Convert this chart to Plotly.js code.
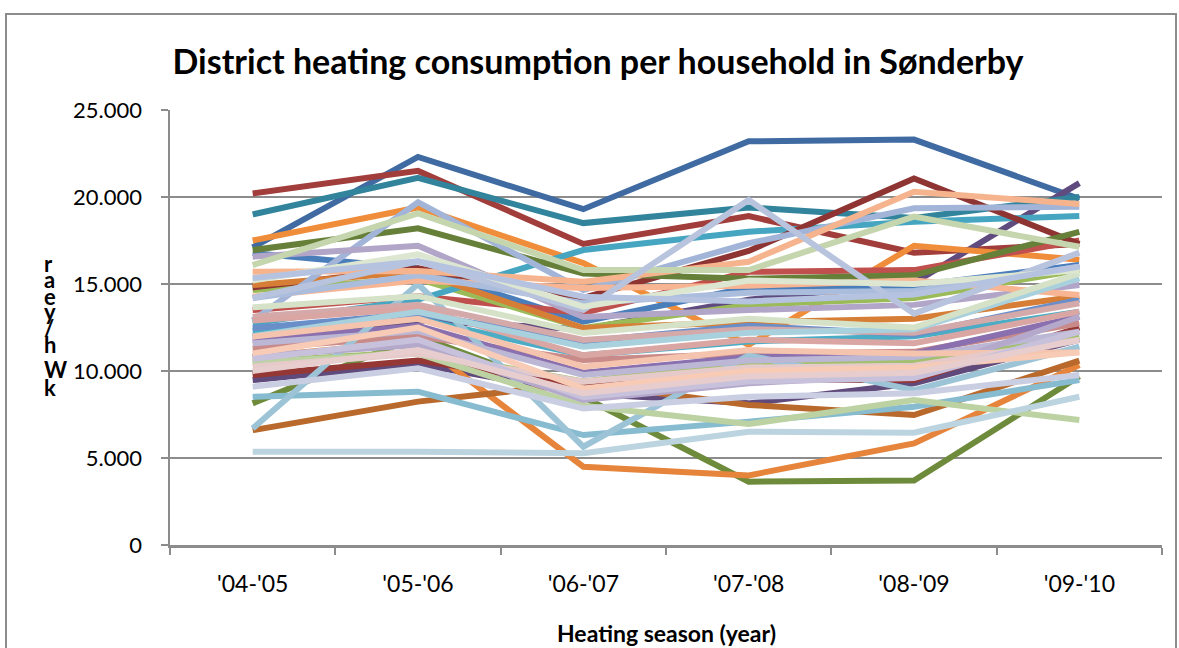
<!DOCTYPE html>
<html>
<head>
<meta charset="utf-8">
<script src="https://cdn.plot.ly/plotly-3.0.1.min.js"></script>
<style>
html,body{margin:0;padding:0;background:#fff;}
#chart{width:1179px;height:648px;}
</style>
</head>
<body>
<div id="chart"></div>
<script>
const seasons = ["'04-'05", "'05-'06", "'06-'07", "'07-'08", "'08-'09", "'09-'10"];
const yTicks = [0, 5000, 10000, 15000, 20000, 25000];

const h01 = [17100, 22300, 19300, 23200, 23300, 19900];
const h02 = [20200, 21500, 17300, 18900, 16800, 17300];
const h03 = [8140, 12000, 8500, 3640, 3700, 9700];
const h04 = [12000, 12900, 12400, 14100, 15070, 20800];
const h05 = [19000, 21100, 18500, 19400, 18800, 20000];
const h06 = [17500, 19400, 16200, 11500, 17200, 16400];
const h07 = [16780, 15900, 12830, 14800, 14900, 16090];
const h08 = [13500, 14300, 13330, 15700, 15800, 17500];
const h09 = [14650, 15300, 12470, 13800, 14200, 15800];
const h10 = [9480, 10400, 8700, 8140, 9300, 11800];
const h11 = [12740, 14100, 16950, 18000, 18580, 18910];
const h12 = [10800, 11700, 4500, 4000, 5840, 10345];
const h13 = [6600, 8240, 9300, 8050, 7470, 10600];
const h14 = [14800, 15900, 14200, 16900, 21070, 17300];
const h15 = [16950, 18200, 15600, 15300, 15500, 18000];
const h16 = [12300, 13000, 10900, 11700, 12000, 13400];
const h17 = [14940, 15700, 12470, 12800, 13000, 14300];
const h18 = [9770, 10600, 9200, 9500, 9480, 12500];
const h19 = [12470, 13300, 11700, 12600, 12100, 14100];
const h20 = [11300, 12000, 10630, 11000, 11100, 12740];
const h21 = [10530, 11100, 9400, 10500, 10600, 12000];
const h22 = [11700, 12600, 9900, 10800, 11000, 13120];
const h23 = [8520, 8810, 6320, 7090, 7950, 9480];
const h24 = [12900, 19700, 14650, 17340, 19350, 19440];
const h25 = [16570, 17200, 13100, 13500, 13800, 14940];
const h26 = [6700, 15000, 5650, 10900, 8900, 11400];
const h27 = [14270, 15200, 14770, 14900, 15200, 14370];
const h28 = [14180, 15500, 13900, 14500, 14600, 16000];
const h29 = [13120, 13800, 11780, 12400, 12200, 13890];
const h30 = [12900, 13600, 10900, 11800, 11600, 13410];
const h31 = [10500, 11000, 8000, 6950, 8330, 7180];
const h32 = [9100, 10150, 7850, 8520, 8720, 9770];
const h33 = [15700, 15750, 15130, 16280, 20300, 19600];
const h34 = [16090, 19060, 15800, 15800, 18870, 17140];
const h35 = [14200, 16300, 13500, 19830, 13300, 16800];
const h36 = [12000, 13400, 11400, 12200, 12400, 15330];
const h37 = [11590, 12300, 9770, 10600, 10800, 12260];
const h38 = [10860, 11500, 8330, 9300, 9800, 13120];
const h39 = [13660, 14300, 12180, 13000, 12500, 15610];
const h40 = [15200, 16700, 13700, 15200, 15000, 15800];
const h41 = [15340, 16300, 14270, 14000, 14400, 16000];
const h42 = [11970, 13000, 10250, 11200, 11000, 11070];
const h43 = [10250, 11000, 9390, 10200, 10300, 11780];
const h44 = [11000, 12500, 9000, 10000, 10200, 11070];
const h45 = [10700, 11800, 8500, 9400, 9600, 12260];
const h46 = [5360, 5360, 5270, 6510, 6450, 8520];
const h47 = [10000, 11200, 8720, 9700, 9900, 11780];

const lineColors = ["#3F6BA2", "#A13D3B", "#6E8A3B", "#5F4B7E", "#31849B", "#F08D3A",
  "#4A7EBB", "#C0504D", "#9BBB59", "#604A7B", "#46A6C1", "#E5843A",
  "#B8692B", "#8E3432", "#66803A", "#4BACC6", "#D67D36", "#953735",
  "#6A8FC8", "#C98B89", "#A2C06F", "#8A70AE", "#86BBD0", "#A2B5D8",
  "#B1A5C8", "#9DC4D6", "#F8B593", "#ABBDDD", "#D4A9A9", "#D9A6A4",
  "#BCD2A2", "#C9CEE2", "#F6B48E", "#C5D6AE", "#B8C3DD", "#A9D0DD",
  "#BCB7D4", "#B4A8CB", "#D6E2C8", "#DCE6D0", "#B5C3E0", "#F5C4AE",
  "#E6CACA", "#F7CBB6", "#C7C1DC", "#BCD4E0", "#E7CDCD"];

const allSeries = [h01,h02,h03,h04,h05,h06,h07,h08,h09,h10,h11,h12,h13,h14,h15,h16,h17,h18,h19,h20,
  h21,h22,h23,h24,h25,h26,h27,h28,h29,h30,h31,h32,h33,h34,h35,h36,h37,h38,h39,h40,h41,h42,h43,h44,h45,h46,h47];

const traces = allSeries.map((vals, i) => ({
  type: 'scatter', mode: 'lines', x: seasons, y: vals,
  line: {color: lineColors[i], width: 6},
  hoverinfo: 'skip', showlegend: false
}));

const W = 1179, H = 648, L = 170, R = 17, T = 110, B = 103;
const pw = W - L - R, ph = H - T - B;
const px = v => (v - L) / pw;
const py = v => (H - B - v) / ph;

const gray = '#8C8C8C';
const fam = 'Lato, "Open Sans", sans-serif';

const yLetters = ['r', 'a', 'e', 'y', '/', 'h', 'W', 'k'];
const yLetterPos = [263, 279, 296, 311, 327, 344, 369, 387];
const annotations = yLetters.map((ch, i) => ({
  text: '<b>' + ch + '</b>', xref: 'paper', yref: 'paper',
  x: px(42), y: py(yLetterPos[i]), xanchor: 'left', yanchor: 'middle',
  showarrow: false, font: {family: fam, size: 22, color: '#000'}
}));
annotations.push({
  text: '<b>Heating season (year)</b>', xref: 'paper', yref: 'paper',
  x: 0.5, y: py(633), xanchor: 'center', yanchor: 'middle',
  showarrow: false, font: {family: fam, size: 23, color: '#000'}
});

const layout = {
  width: W, height: H,
  margin: {l: L, r: R, t: T, b: B, pad: 0},
  paper_bgcolor: '#fff', plot_bgcolor: '#fff',
  separators: ',.',
  title: {
    text: '<b>District heating consumption per household in Sønderby</b>',
    x: 598 / W, xanchor: 'center', y: 1 - 62 / H, yanchor: 'middle',
    font: {family: fam, size: 34, color: '#000'}
  },
  xaxis: {
    type: 'category', range: [-0.5, 5.5],
    showgrid: false, zeroline: false,
    showline: true, linecolor: gray, linewidth: 2.5,
    ticks: 'outside', tickson: 'boundaries', ticklen: 7, tickwidth: 2, tickcolor: gray,
    ticklabelstandoff: 17,
    tickfont: {family: fam, size: 23, color: '#000'}
  },
  yaxis: {
    range: [0, 25000], tickvals: yTicks, tickformat: ',d',
    showgrid: true, gridcolor: gray, gridwidth: 2.5,
    zeroline: false,
    showline: true, linecolor: gray, linewidth: 2.5,
    ticks: 'outside', ticklen: 7, tickwidth: 2, tickcolor: gray,
    ticklabelstandoff: 14,
    tickfont: {family: fam, size: 22, color: '#000'}
  },
  shapes: [{
    type: 'rect', xref: 'paper', yref: 'paper', layer: 'below',
    x0: px(6), x1: px(1176), y0: py(660), y1: py(14),
    line: {color: gray, width: 2}, fillcolor: 'rgba(0,0,0,0)'
  }],
  annotations: annotations
};

Plotly.newPlot('chart', traces, layout, {displayModeBar: false, staticPlot: true});
</script>
</body>
</html>
